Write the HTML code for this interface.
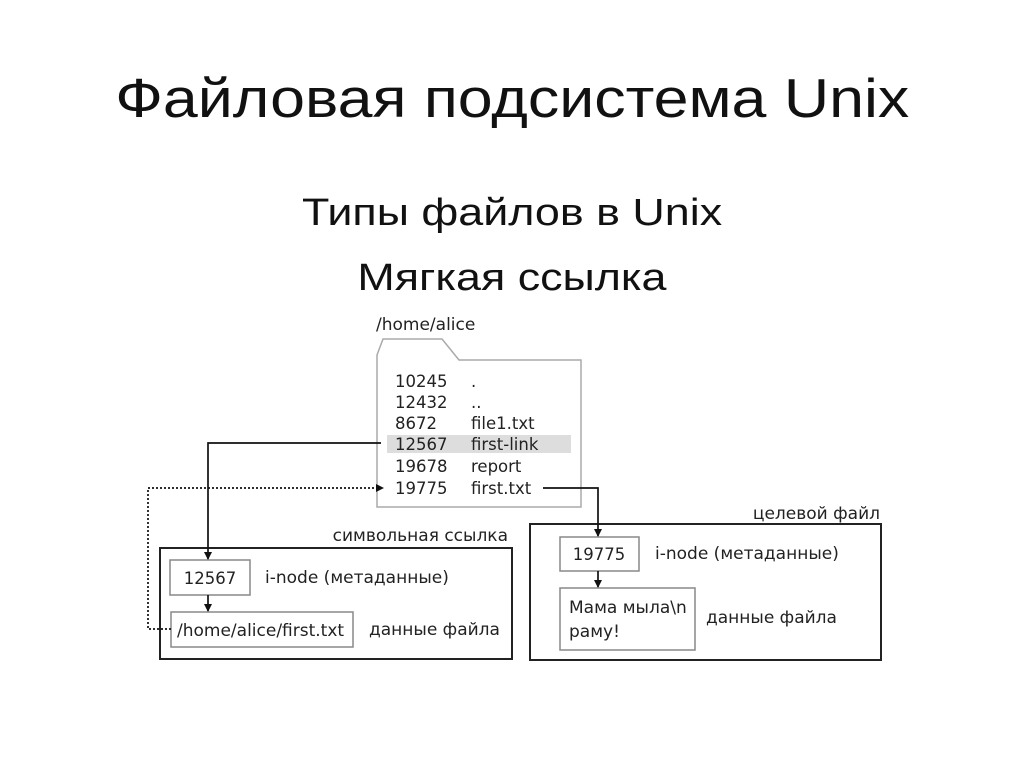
<!DOCTYPE html>
<html><head><meta charset="utf-8"><style>
body{margin:0;background:#fff;width:1024px;height:767px;overflow:hidden;font-family:"Liberation Sans","DejaVu Sans",sans-serif}
.t{position:absolute;left:0;width:1024px;text-align:center;color:#111}
.t span{display:inline-block}
</style></head><body>
<div class="t" style="top:66px;font-size:55px"><span style="transform:scaleX(1.14)">Файловая подсистема Unix</span></div>
<div class="t" style="top:192px;font-size:38px"><span style="transform:scaleX(1.18)">Типы файлов в Unix</span></div>
<div class="t" style="top:257px;font-size:38px"><span style="transform:scaleX(1.18)">Мягкая ссылка</span></div>
<svg width="1024" height="767" style="position:absolute;left:0;top:0" font-family="DejaVu Sans, Liberation Sans, sans-serif" font-size="16.5" fill="#222">
<defs><marker id="a" markerWidth="8" markerHeight="8" refX="7" refY="4" orient="auto" markerUnits="userSpaceOnUse"><path d="M0,0L8,4L0,8z" fill="#111"/></marker></defs>
<text x="376" y="330" font-size="17">/home/alice</text>
<path d="M377,507 V355 L383,339 H442 L459,360 H581 V507 Z" fill="none" stroke="#aaa" stroke-width="1.5"/>
<rect x="387" y="435" width="184" height="18" fill="#ddd"/>
<g>
<text x="395" y="387">10245</text><text x="471" y="387">.</text>
<text x="395" y="408">12432</text><text x="471" y="408">..</text>
<text x="395" y="429">8672</text><text x="471" y="429">file1.txt</text>
<text x="395" y="450">12567</text><text x="471" y="450">first-link</text>
<text x="395" y="472">19678</text><text x="471" y="472">report</text>
<text x="395" y="494">19775</text><text x="471" y="494">first.txt</text>
</g>
<text x="508" y="541" text-anchor="end" font-size="17">символьная ссылка</text>
<rect x="160" y="548" width="352" height="111" fill="none" stroke="#222" stroke-width="2"/>
<rect x="170" y="560" width="80" height="35" fill="none" stroke="#888" stroke-width="1.5"/>
<text x="210" y="584" text-anchor="middle">12567</text>
<text x="265" y="583" font-size="17">i-node (метаданные)</text>
<rect x="171" y="612" width="182" height="35" fill="none" stroke="#888" stroke-width="1.5"/>
<text x="177" y="636" font-size="17">/home/alice/first.txt</text>
<text x="369" y="635" font-size="17">данные файла</text>
<path d="M381,443 H208 V559" fill="none" stroke="#111" stroke-width="1.7" marker-end="url(#a)"/>
<path d="M208,595 V611" fill="none" stroke="#111" stroke-width="1.7" marker-end="url(#a)"/>
<path d="M171,629 H148 V488 H383" fill="none" stroke="#111" stroke-width="1.7" stroke-dasharray="2,2" marker-end="url(#a)"/>
<text x="880" y="519" text-anchor="end" font-size="17">целевой файл</text>
<rect x="530" y="524" width="351" height="136" fill="none" stroke="#222" stroke-width="2"/>
<rect x="560" y="537" width="79" height="34" fill="none" stroke="#888" stroke-width="1.5"/>
<text x="599" y="560" text-anchor="middle">19775</text>
<text x="655" y="559" font-size="17">i-node (метаданные)</text>
<rect x="560" y="588" width="135" height="62" fill="none" stroke="#888" stroke-width="1.5"/>
<text x="569" y="613" font-size="17">Мама мыла\n</text>
<text x="569" y="637" font-size="17">раму!</text>
<text x="706" y="623" font-size="17">данные файла</text>
<path d="M543,488 H598 V536" fill="none" stroke="#111" stroke-width="1.7" marker-end="url(#a)"/>
<path d="M598,571 V587" fill="none" stroke="#111" stroke-width="1.7" marker-end="url(#a)"/>
</svg>
</body></html>
